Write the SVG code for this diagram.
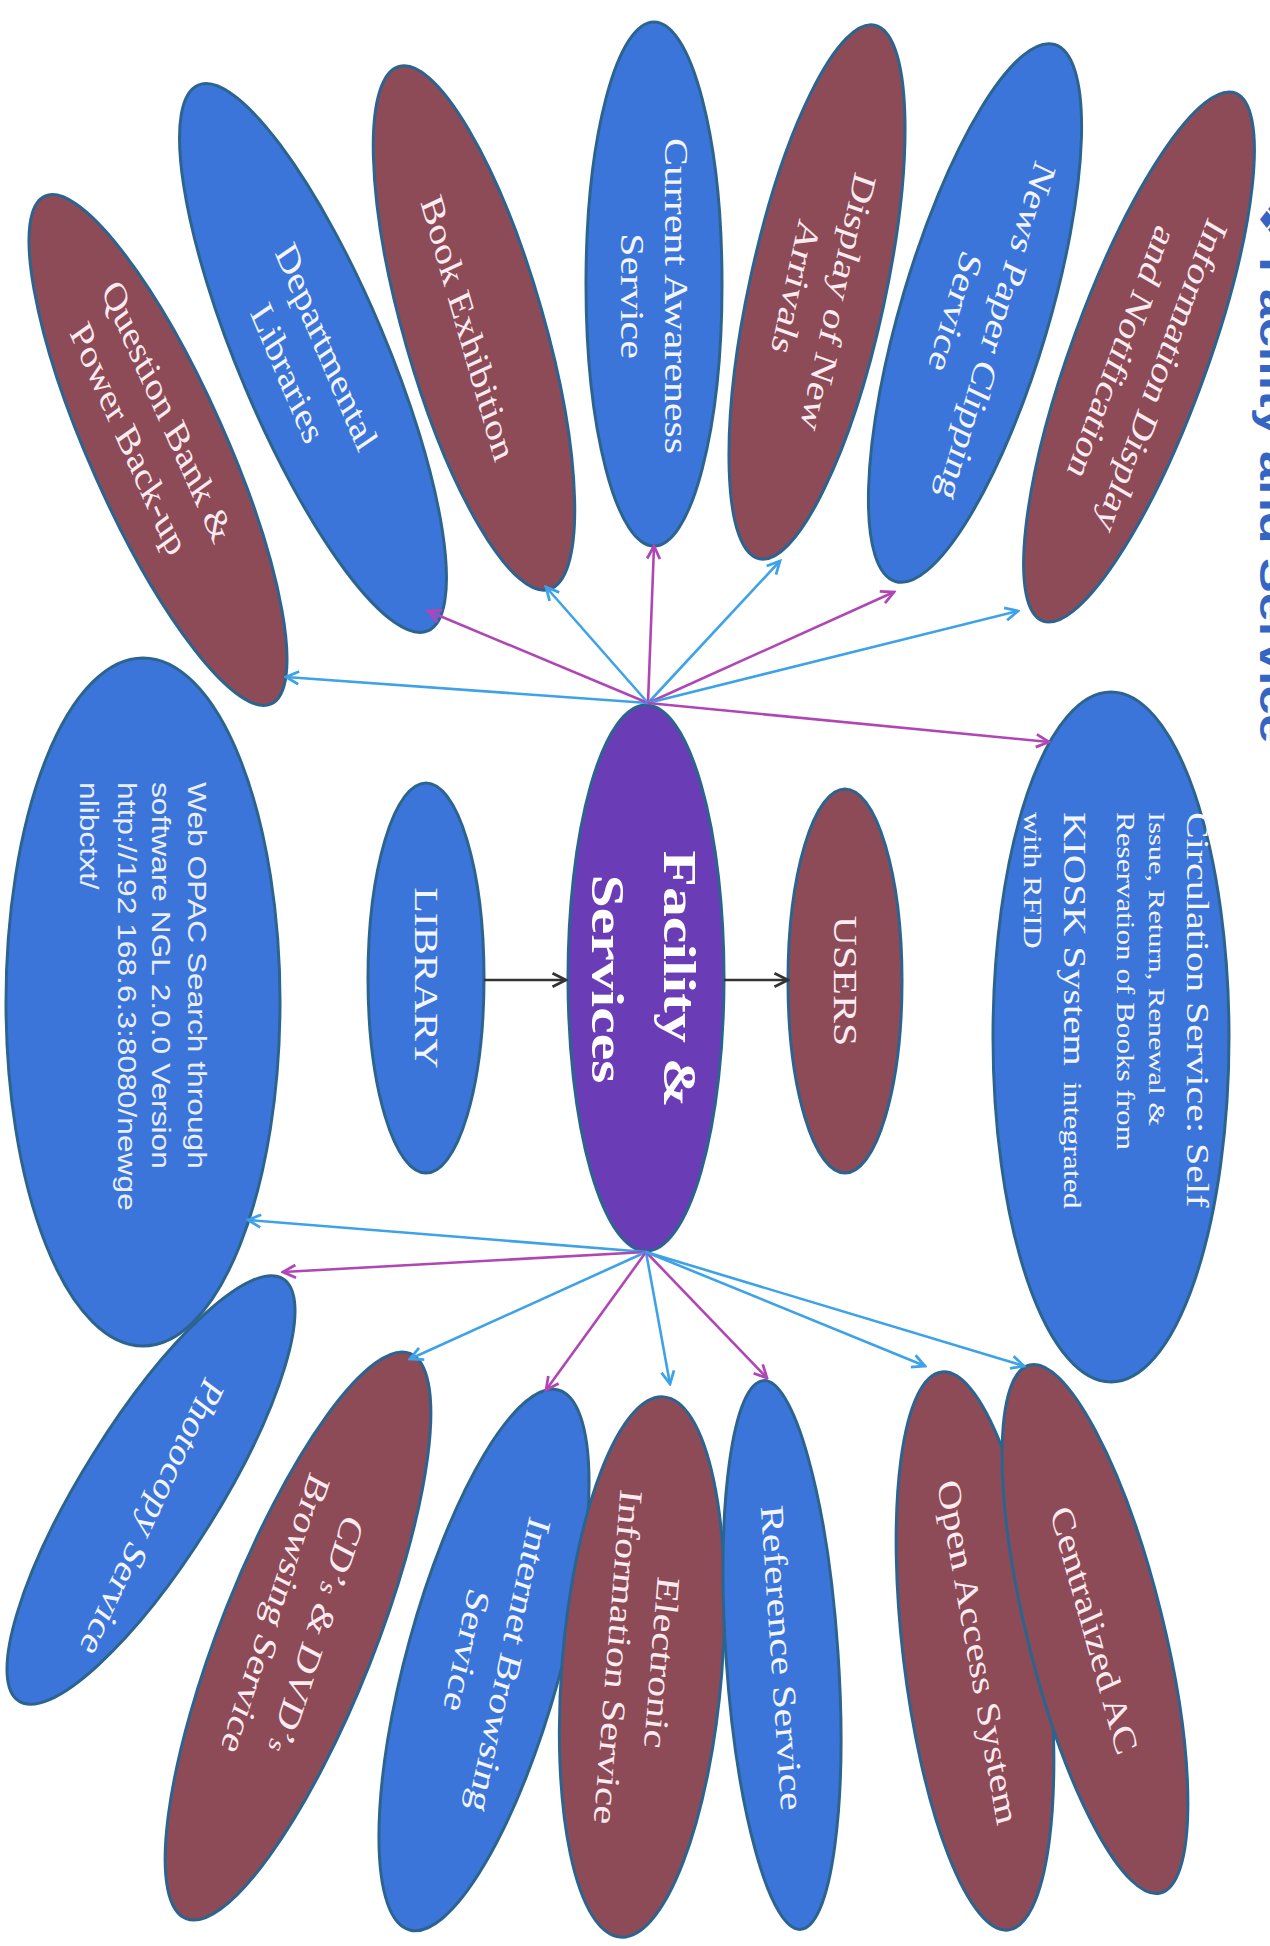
<svg xmlns="http://www.w3.org/2000/svg" width="1270" height="1946" viewBox="0 0 1270 1946">
<style>
.blue{fill:#3C75D9;stroke:#2C6490;stroke-width:3}
.brown{fill:#8C4B57;stroke:#2C6490;stroke-width:3}
.purple{fill:#6A3DB6;stroke:#2C6490;stroke-width:3}
.t{font-family:"Liberation Serif","Times New Roman",serif;font-size:33px;text-anchor:middle}
.tw{fill:#F2F5FF}
.tp{fill:#FBEAF0}
.fac{font-family:"Liberation Serif","Times New Roman",serif;font-size:47px;font-weight:bold;text-anchor:middle;fill:#FFFFFF}
.circ{font-family:"Liberation Serif","Times New Roman",serif;fill:#F2F5FF}
.opac{font-family:"Liberation Sans",Arial,sans-serif;font-size:25px;fill:#E8EEFF}
.title{font-family:"Liberation Sans",Arial,"DejaVu Sans",sans-serif;font-size:41px;font-weight:bold;fill:#3565C3}
.c{fill:none;stroke-width:2.6}
.cb{stroke:#3DA2E8}
.cm{stroke:#B046B6}
.ck{stroke:#333333}
</style>
<defs>
<marker id="mb" viewBox="0 0 16 16" refX="14" refY="8" markerWidth="17" markerHeight="17" markerUnits="userSpaceOnUse" orient="auto"><path d="M2,2 L14,8 L2,14" fill="none" stroke="#3DA2E8" stroke-width="2.6"/></marker>
<marker id="mm" viewBox="0 0 16 16" refX="14" refY="8" markerWidth="17" markerHeight="17" markerUnits="userSpaceOnUse" orient="auto"><path d="M2,2 L14,8 L2,14" fill="none" stroke="#B046B6" stroke-width="2.6"/></marker>
<marker id="mk" viewBox="0 0 16 16" refX="14" refY="8" markerWidth="18" markerHeight="18" markerUnits="userSpaceOnUse" orient="auto"><path d="M2,2 L14,8 L2,14" fill="none" stroke="#333333" stroke-width="2.4"/></marker>
</defs>

<g id="title">
<text class="title" transform="translate(1260,196) scale(1,1.27) rotate(90)">❖ Facility and Service</text>
</g>

<g id="node-question-bank">
<ellipse class="brown" transform="translate(158,450) rotate(-24)" rx="68" ry="278"/>
<text class="t tp" transform="translate(148,425) scale(1,1.27) rotate(60.5)"><tspan x="0" y="-11">Question Bank &amp;</tspan><tspan x="0" y="33">Power Back-up</tspan></text>
</g>
<g id="node-departmental">
<ellipse class="blue" transform="translate(313,358) rotate(-22.8)" rx="74" ry="296"/>
<text class="t tw" transform="translate(307,360) scale(1,1.27) rotate(61.9)"><tspan x="0" y="-11">Departmental</tspan><tspan x="0" y="33">Libraries</tspan></text>
</g>
<g id="node-book-exhibition">
<ellipse class="brown" transform="translate(474,328) rotate(-16)" rx="70" ry="272"/>
<text class="t tp" transform="translate(468,328) scale(1,1.27) rotate(70)"><tspan x="0" y="11">Book Exhibition</tspan></text>
</g>
<g id="node-current-awareness">
<ellipse class="blue" transform="translate(654,284)" rx="68" ry="262"/>
<text class="t tw" transform="translate(654,296) scale(1,1.27) rotate(90)"><tspan x="0" y="-11">Current Awareness</tspan><tspan x="0" y="33">Service</tspan></text>
</g>
<g id="node-display-new-arrivals">
<ellipse class="brown" transform="translate(817,292) rotate(12.2)" rx="68" ry="273"/>
<text class="t tp" transform="translate(817,295) scale(1,1.27) rotate(105.4)"><tspan x="0" y="-11">Display of New</tspan><tspan x="0" y="33">Arrivals</tspan></text>
</g>
<g id="node-news-paper">
<ellipse class="blue" transform="translate(975,313) rotate(16.5)" rx="74" ry="280"/>
<text class="t tw" transform="translate(976,322) scale(1,1.27) rotate(110.5)"><tspan x="0" y="-11">News Paper Clipping</tspan><tspan x="0" y="33">Service</tspan></text>
</g>
<g id="node-information-display">
<ellipse class="brown" transform="translate(1139,357) rotate(20)" rx="68" ry="281"/>
<text class="t tp" transform="translate(1142,365) scale(1,1.27) rotate(114.8)"><tspan x="0" y="-11">Information Display</tspan><tspan x="0" y="33">and Notification</tspan></text>
</g>

<g id="node-web-opac">
<ellipse class="blue" cx="143" cy="1002" rx="137" ry="344"/>
<text class="opac" transform="translate(188,782) scale(1,1.27) rotate(90)"><tspan x="0" y="0">Web OPAC Search through</tspan><tspan x="0" y="36">software NGL 2.0.0 Version</tspan><tspan x="0" y="70">http://192 168.6.3:8080/newge</tspan><tspan x="0" y="108">nlibctxt/</tspan></text>
</g>
<g id="node-library">
<ellipse class="blue" cx="426" cy="978" rx="58" ry="195"/>
<text class="t tw" transform="translate(426,978) scale(1,1.27) rotate(90)"><tspan x="0" y="11">LIBRARY</tspan></text>
</g>
<g id="node-facility">
<ellipse class="purple" cx="646" cy="978" rx="78" ry="273"/>
<text class="fac" transform="translate(644,979) scale(1,1.27) rotate(90)"><tspan x="0" y="-20">Facility &amp;</tspan><tspan x="0" y="52">Services</tspan></text>
</g>
<g id="node-users">
<ellipse class="brown" cx="845" cy="981" rx="57" ry="192"/>
<text class="t tp" transform="translate(845,981) scale(1,1.27) rotate(90)"><tspan x="0" y="11">USERS</tspan></text>
</g>
<g id="node-circulation">
<ellipse class="blue" cx="1111" cy="1037" rx="118" ry="345"/>
<text class="circ" transform="translate(1187,812) scale(1,1.27) rotate(90)"><tspan x="0" y="0" font-size="31.5">Circulation Service: Self</tspan><tspan x="0" y="38" font-size="24">Issue, Return, Renewal &amp;</tspan><tspan x="0" y="70" font-size="24.5">Reservation of Books from</tspan><tspan x="0" y="123" font-size="32">KIOSK System</tspan><tspan font-size="25" xml:space="preserve">  integrated</tspan><tspan x="0" y="163" font-size="25">with RFID</tspan></text>
</g>

<g id="node-photocopy">
<ellipse class="blue" transform="translate(151,1490) rotate(32)" rx="68" ry="249"/>
<text class="t tw" transform="translate(152,1518) scale(1,1.27) rotate(120.6)"><tspan x="0" y="11">Photocopy Service</tspan></text>
</g>
<g id="node-cds-dvds">
<ellipse class="brown" transform="translate(298,1636) rotate(21.6)" rx="77" ry="304"/>
<text class="t tp" transform="translate(296,1625) scale(1,1.27) rotate(112.4)"><tspan x="0" y="-11">CD’<tspan font-size="24">s</tspan> &amp; DVD’<tspan font-size="24">s</tspan></tspan><tspan x="0" y="33">Browsing Service</tspan></text>
</g>
<g id="node-internet">
<ellipse class="blue" transform="translate(484,1660) rotate(15.4)" rx="77" ry="280"/>
<text class="t tw" transform="translate(488,1658) scale(1,1.27) rotate(105.1)"><tspan x="0" y="-11">Internet Browsing</tspan><tspan x="0" y="33">Service</tspan></text>
</g>
<g id="node-electronic">
<ellipse class="brown" transform="translate(642,1667) rotate(4.6)" rx="80" ry="271"/>
<text class="t tp" transform="translate(640,1660) scale(1,1.27) rotate(95.8)"><tspan x="0" y="-11">Electronic</tspan><tspan x="0" y="33">Information Service</tspan></text>
</g>
<g id="node-reference">
<ellipse class="blue" transform="translate(782,1655) rotate(-3.9)" rx="56" ry="275"/>
<text class="t tw" transform="translate(782,1658) scale(1,1.27) rotate(85.1)"><tspan x="0" y="11">Reference Service</tspan></text>
</g>
<g id="node-open-access">
<ellipse class="brown" transform="translate(975,1651) rotate(-6.8)" rx="72" ry="281"/>
<text class="t tp" transform="translate(978,1652) scale(1,1.27) rotate(77.4)"><tspan x="0" y="11">Open Access System</tspan></text>
</g>
<g id="node-centralized-ac">
<ellipse class="brown" transform="translate(1095,1629) rotate(-13.9)" rx="68" ry="272"/>
<text class="t tp" transform="translate(1094,1630) scale(1,1.27) rotate(70.6)"><tspan x="0" y="11">Centralized AC</tspan></text>
</g>

<g id="connectors">
<line class="c cb" x1="648" y1="703" x2="286" y2="677" marker-end="url(#mb)"/>
<line class="c cm" x1="648" y1="703" x2="428" y2="611" marker-end="url(#mm)"/>
<line class="c cb" x1="648" y1="703" x2="546" y2="587" marker-end="url(#mb)"/>
<line class="c cm" x1="648" y1="703" x2="654" y2="546" marker-end="url(#mm)"/>
<line class="c cb" x1="648" y1="703" x2="780" y2="561" marker-end="url(#mb)"/>
<line class="c cm" x1="648" y1="703" x2="894" y2="592" marker-end="url(#mm)"/>
<line class="c cb" x1="648" y1="703" x2="1018" y2="611" marker-end="url(#mb)"/>
<line class="c cm" x1="648" y1="703" x2="1049" y2="742" marker-end="url(#mm)"/>
<line class="c cb" x1="646" y1="1252" x2="248" y2="1220" marker-end="url(#mb)"/>
<line class="c cm" x1="646" y1="1252" x2="283" y2="1272" marker-end="url(#mm)"/>
<line class="c cb" x1="646" y1="1252" x2="410" y2="1359" marker-end="url(#mb)"/>
<line class="c cm" x1="646" y1="1252" x2="546" y2="1390" marker-end="url(#mm)"/>
<line class="c cb" x1="646" y1="1252" x2="670" y2="1384" marker-end="url(#mb)"/>
<line class="c cm" x1="646" y1="1252" x2="767" y2="1378" marker-end="url(#mm)"/>
<line class="c cb" x1="646" y1="1252" x2="925" y2="1366" marker-end="url(#mb)"/>
<line class="c cb" x1="646" y1="1252" x2="1024" y2="1366" marker-end="url(#mb)"/>
<line class="c ck" x1="484" y1="980" x2="566" y2="980" marker-end="url(#mk)"/>
<line class="c ck" x1="724" y1="980" x2="788" y2="980" marker-end="url(#mk)"/>
</g>
</svg>
